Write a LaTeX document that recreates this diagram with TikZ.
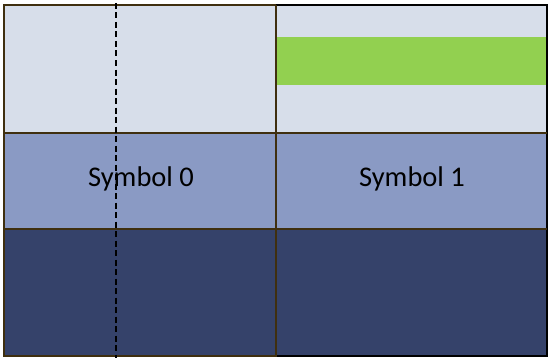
\documentclass[tikz,border=0pt]{standalone}
\usepackage{fontspec}
\setmainfont{Carlito}
\definecolor{lightband}{HTML}{D7DEEA}
\definecolor{midband}{HTML}{8A9AC4}
\definecolor{darkband}{HTML}{35426A}
\definecolor{greenband}{HTML}{92D050}
\definecolor{brownline}{HTML}{3F2F0F}
\tikzset{
  bandline/.style={draw=brownline, line width=1.6pt},
  outerline/.style={draw=black, line width=1.6pt},
  label/.style={font=\fontsize{28.5}{30}\selectfont, text=black, anchor=base, inner sep=0pt},
  guide/.style={draw=black, line width=1.6pt, dash pattern=on 6pt off 3.5pt}
}
\begin{document}
\begin{tikzpicture}[x=1pt,y=-1pt]
\useasboundingbox (0,0) rectangle (548,361);
\fill[white] (0,0) rectangle (548,361);
% fills
\fill[lightband] (4,5) rectangle (547,133);
\fill[midband] (4,133) rectangle (547,229);
\fill[darkband] (4,229) rectangle (547,356);
\fill[greenband] (277,37) rectangle (548,85);
% coordinates
\coordinate (tl) at (4,5);
\coordinate (tm) at (276,5);
\coordinate (tr) at (547,5);
\coordinate (bl) at (4,356);
\coordinate (bm) at (276,356);
\coordinate (br) at (547,356);
\coordinate (l1) at (4,133);
\coordinate (r1) at (547,133);
\coordinate (l2) at (4,229);
\coordinate (r2) at (547,229);
\coordinate (dtop) at (116,3);
\coordinate (dbot) at (116,358);
% lines
\draw[outerline] (tm) -- (tr) -- (br) -- (bm);
\draw[bandline] (tm) -- (tl) -- (bl) -- (bm) -- (tm);
\draw[bandline] (l1) -- (r1);
\draw[bandline] (l2) -- (r2);
% text
\node[label] (s0) at (141,186) {Symbol 0};
\node[label] (s1) at (412,186) {Symbol 1};
% dashed guide
\draw[guide] (dtop) -- (dbot);
\end{tikzpicture}
\end{document}
